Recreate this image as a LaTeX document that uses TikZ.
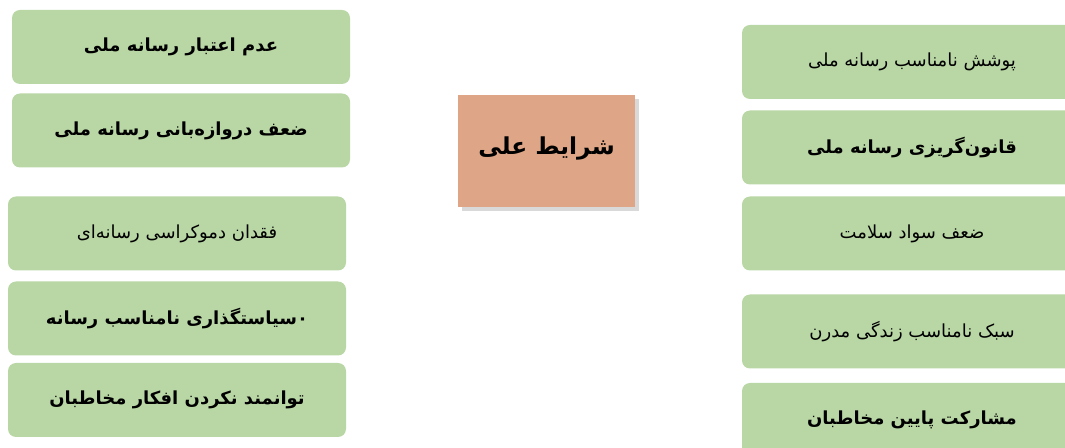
\documentclass[tikz,border=0pt]{standalone}
\usepackage{fontspec}
\newfontfamily\arabicfont[Script=Arabic]{DejaVu Sans}
\TeXXeTstate=1
\usetikzlibrary{shadows}

\definecolor{causegreen}{RGB}{185,214,165}
\definecolor{coreorange}{RGB}{222,166,134}
\def\BoxW{253.5pt}
\def\BoxH{55.5pt}

\begin{document}
\begin{tikzpicture}[x=0.75pt,y=-0.75pt,
  causebox/.style={fill=causegreen, rounded corners=6pt, minimum width=\BoxW,
    minimum height=\BoxH, inner sep=0pt, font=\arabicfont\fontsize{13.5}{16}\selectfont},
  corebox/.style={fill=coreorange, minimum width=132.75pt, minimum height=84pt,
    drop shadow={opacity=0.3, shadow xshift=3pt, shadow yshift=-3pt},
    font=\arabicfont\bfseries\fontsize{17.5}{21}\selectfont}]
  \useasboundingbox (0,0) rectangle (1065,448);
  \clip (0,0) rectangle (1065,448);

  % --- Columna izquierda ---
  \foreach \n/\x/\y/\f/\t in {%
    l1/181/47/\bfseries/عدم اعتبار رسانه ملی,
    l2/181/130.5/\bfseries/ضعف دروازه‌بانی رسانه ملی,
    l3/177/233.5/\mdseries/فقدان دموکراسی رسانه‌ای,
    l4/177/318.5/\bfseries/۰سیاستگذاری نامناسب رسانه,
    l5/177/400/\bfseries/توانمند نکردن افکار مخاطبان%
  }{
    \node[causebox] (\n) at (\x,\y) {\f\beginR \t\endR};
  }

  % --- Columna derecha ---
  \foreach \n/\y/\f/\t in {%
    r1/62/\mdseries/پوشش نامناسب رسانه ملی,
    r2/147.5/\bfseries/قانون‌گریزی رسانه ملی,
    r3/233.5/\mdseries/ضعف سواد سلامت,
    r4/331.5/\mdseries/سبک نامناسب زندگی مدرن,
    r5/420/\bfseries/مشارکت پایین مخاطبان%
  }{
    \node[causebox, minimum width=255pt] (\n) at (912,\y) {\f\beginR \t\endR};
  }

  % --- Centro ---
  \node[corebox, text depth=8pt] (core) at (546.5,151) {\beginR شرایط علی\endR};
\end{tikzpicture}
\end{document}
